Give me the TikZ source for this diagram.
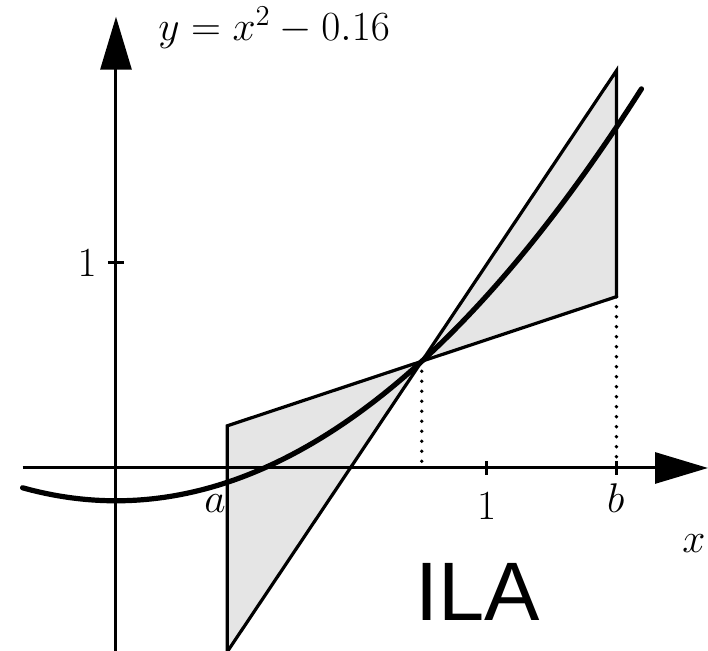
\documentclass[tikz,border=0pt]{standalone}
\usepackage{amsmath}
\usepackage{fontspec}
\newfontfamily\ilafont{Liberation Sans}
\usetikzlibrary{arrows.meta,calc}

\begin{document}
\begin{tikzpicture}[x=185.35pt, y=102.5pt,
        axis/.style={line width=1.5pt, -{Triangle[length=26.5pt,width=15.5pt]}},
        wedge/.style={draw, line width=1.6pt, fill=black!10, line join=miter},
        graph/.style={line width=2.6pt, line cap=round},
        guide/.style={line width=1.9pt, line cap=round, dash pattern=on 0pt off 5pt},
        tick/.style={line width=1.5pt},
        lbl/.style={inner sep=0pt, font=\fontsize{20}{24}\selectfont}]

        \useasboundingbox (-0.3129,-0.8927) rectangle (1.5970,2.2829);

        % interval [a,b], midpoint c
        \def\xa{0.3}
        \def\xb{1.35}
        \def\xc{0.825}
        \pgfmathsetmacro\fc{\xc*\xc-0.16}
        \pgfmathsetmacro\loA{\fc+2*\xa*(\xa-\xc)}
        \pgfmathsetmacro\loB{\fc+2*\xa*(\xb-\xc)}
        \pgfmathsetmacro\hiA{\fc+2*\xb*(\xa-\xc)}
        \pgfmathsetmacro\hiB{\fc+2*\xb*(\xb-\xc)}

        \coordinate (mid) at (\xc,\fc);
        \coordinate (midfoot) at (\xc,0);
        \coordinate (loa) at (\xa,\loA);
        \coordinate (hia) at (\xa,\hiA);
        \coordinate (lob) at (\xb,\loB);
        \coordinate (hib) at (\xb,\hiB);
        \coordinate (bfoot) at (\xb,0);

        \draw[wedge] (loa) -- (mid) -- (hia) -- cycle;
        \draw[wedge] (lob) -- (mid) -- (hib) -- cycle;

        \draw[guide] (mid) -- (midfoot);
        \draw[guide] (lob) -- (bfoot);

        \coordinate (xstart) at (-0.252,0);
        \coordinate (xend) at (1.597,0);
        \coordinate (ystart) at (0,-0.893);
        \coordinate (yend) at (0,2.2015);
        \draw[axis] (xstart) -- (xend);
        \draw[axis] (ystart) -- (yend);

        \draw[tick] (1,-0.034) -- (1,0.034);
        \draw[tick] (\xb,-0.034) -- (\xb,0.034);
        \draw[tick] (-0.0216,1) -- (0.0216,1);

        \draw[graph] plot[domain=-0.252:1.418, samples=80, smooth] (\x,{\x*\x-0.16});

        \node[lbl, anchor=base west] (fun) at (0.1133,2.083) {$y = x^2 - 0.16$};
        \node[lbl, anchor=base] (xlab) at (1.559,-0.4146) {$x$};
        \node[lbl, anchor=base] (alab) at (0.267,-0.2195) {$a$};
        \node[lbl, anchor=base] (blab) at (1.348,-0.2195) {$b$};
        \node[lbl, anchor=base] (xone) at (1,-0.249) {$1$};
        \node[lbl, anchor=base] (yone) at (-0.078,0.933) {$1$};
        \node[inner sep=0pt, anchor=base, font=\ilafont\fontsize{41.5}{48}\selectfont] (ila) at (0.975,-0.7463) {ILA};
\end{tikzpicture}
\end{document}
